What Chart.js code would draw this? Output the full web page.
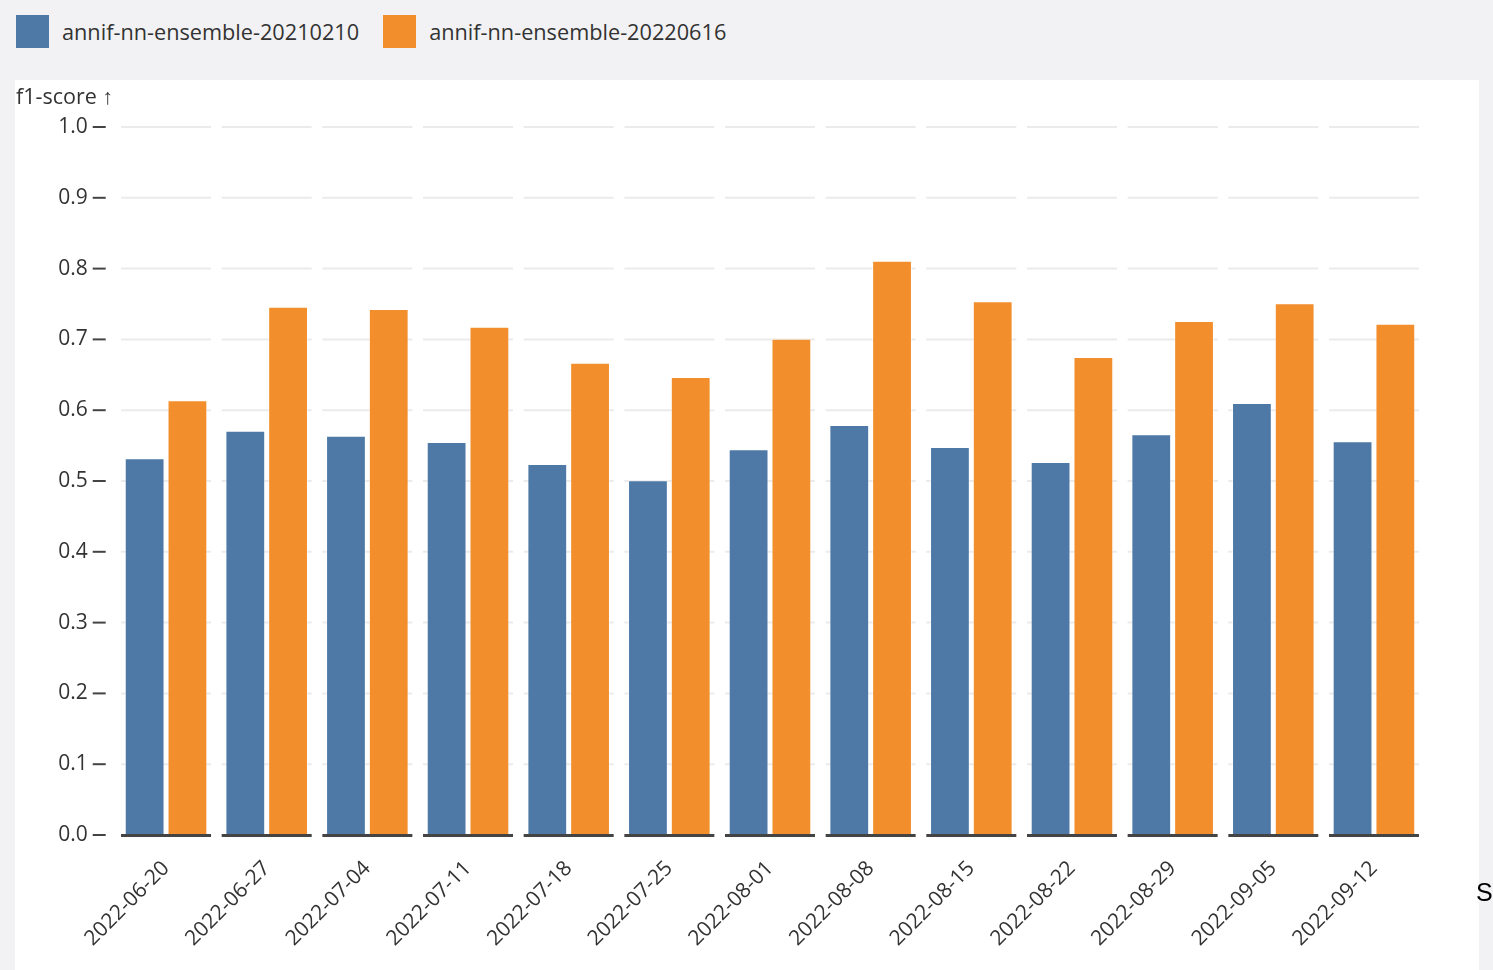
<!DOCTYPE html>
<html>
<head>
<meta charset="utf-8">
<script src="https://cdn.jsdelivr.net/npm/chart.js@4"></script>
<style>
  html, body { margin: 0; padding: 0; }
  body {
    width: 1493px; height: 970px; background: #f2f2f4; position: relative; overflow: hidden;
    font-family: "Open Sans", "Noto Sans", sans-serif; color: #333;
  }
  .legend { position: absolute; top: 15px; left: 16px; display: flex; align-items: center; font-size: 21.7px; }
  .legend .sw { width: 33px; height: 33px; display: inline-block; margin-right: 13px; }
  .legend .item { display: flex; align-items: center; margin-right: 24px; }
  #panel { position: absolute; left: 15px; top: 80px; width: 1464px; height: 890px; background: #fff; }
  #ytitle { position: absolute; left: 1px; top: 1px; font-size: 21.5px; }
  #stray { position: absolute; left: 1476px; top: 878px; font-size: 25px; color: #000; font-family: "Liberation Sans", Arial, sans-serif; }
</style>
</head>
<body>
<div class="legend" id="legend"></div>
<div id="panel">
  <div id="ytitle">f1-score ↑</div>
  <canvas id="chart"></canvas>
</div>
<div id="stray">S</div>
<script>
const categories = ["2022-06-20", "2022-06-27", "2022-07-04", "2022-07-11", "2022-07-18", "2022-07-25",
  "2022-08-01", "2022-08-08", "2022-08-15", "2022-08-22", "2022-08-29", "2022-09-05", "2022-09-12"];
const seriesNames = ["annif-nn-ensemble-20210210", "annif-nn-ensemble-20220616"];
const scores2021 = [0.532, 0.571, 0.564, 0.555, 0.524, 0.501, 0.545, 0.579, 0.548, 0.527, 0.566, 0.610, 0.556];
const scores2022 = [0.614, 0.746, 0.743, 0.718, 0.667, 0.647, 0.701, 0.811, 0.754, 0.675, 0.726, 0.751, 0.722];
const yTicks = [0.0, 0.1, 0.2, 0.3, 0.4, 0.5, 0.6, 0.7, 0.8, 0.9, 1.0];
const colors = ["#4e79a7", "#f28e2b"];

// legend on the grey strip
const legendEl = document.getElementById("legend");
seriesNames.forEach((name, i) => {
  const item = document.createElement("div");
  item.className = "item";
  item.innerHTML = `<span class="sw" style="background:${colors[i]}"></span><span>${name}</span>`;
  legendEl.appendChild(item);
});

// grid lines and the base line are drawn in one piece per category
const segmentPlugin = {
  id: "segments",
  beforeDatasetsDraw(chart) {
    const { ctx, scales: { x, y } } = chart;
    const step = x.getPixelForValue(1) - x.getPixelForValue(0);
    const half = step * 0.447;
    ctx.save();
    ctx.lineWidth = 2;
    ctx.strokeStyle = "#ebebeb";
    yTicks.forEach((t) => {
      if (t === 0) return;
      const py = y.getPixelForValue(t);
      categories.forEach((c, i) => {
        const cx = x.getPixelForValue(i);
        ctx.beginPath();
        ctx.moveTo(cx - half, py);
        ctx.lineTo(cx + half, py);
        ctx.stroke();
      });
    });
    // y tick marks
    ctx.strokeStyle = "#444";
    yTicks.forEach((t) => {
      const py = y.getPixelForValue(t);
      ctx.beginPath();
      ctx.moveTo(chart.chartArea.left - 23, py);
      ctx.lineTo(chart.chartArea.left - 10, py);
      ctx.stroke();
    });
    ctx.restore();
  },
  afterDatasetsDraw(chart) {
    const { ctx, scales: { x, y } } = chart;
    const step = x.getPixelForValue(1) - x.getPixelForValue(0);
    const half = step * 0.447;
    const py = y.getPixelForValue(0);
    ctx.save();
    ctx.lineWidth = 3;
    ctx.strokeStyle = "#444";
    categories.forEach((c, i) => {
      const cx = x.getPixelForValue(i);
      ctx.beginPath();
      ctx.moveTo(cx - half, py + 0.5);
      ctx.lineTo(cx + half, py + 0.5);
      ctx.stroke();
    });
    ctx.restore();
  },
};

const ctx = document.getElementById("chart").getContext("2d");
new Chart(ctx, {
  type: "bar",
  data: {
    labels: categories,
    datasets: [
      { label: seriesNames[0], data: scores2021, backgroundColor: colors[0] },
      { label: seriesNames[1], data: scores2022, backgroundColor: colors[1] },
    ],
  },
  options: {
    responsive: true,
    maintainAspectRatio: false,
    animation: false,
    datasets: {
      bar: {
        categoryPercentage: 0.85,
        barPercentage: 0.93,
        borderWidth: 1,
        borderColor: "rgba(255,255,255,0.45)",
        borderSkipped: false,
      },
    },
    layout: { padding: { left: 0, right: 54.7, top: 47, bottom: 0 } },
    plugins: { legend: { display: false }, tooltip: { enabled: false } },
    scales: {
      x: {
        grid: { display: false },
        border: { display: false },
        ticks: {
          color: "#333",
          font: { family: "'Open Sans', 'Noto Sans', sans-serif", size: 21 },
          minRotation: 45,
          maxRotation: 45,
          padding: 13,
        },
        afterFit(scale) { scale.height = 135; },
      },
      y: {
        min: 0,
        max: 1,
        grid: { display: false, drawTicks: false },
        border: { display: false },
        afterBuildTicks(scale) { scale.ticks = yTicks.map((v) => ({ value: v })); },
        ticks: {
          color: "#333",
          font: { family: "'Open Sans', 'Noto Sans', sans-serif", size: 21 },
          padding: 28,
          callback: (v) => Number(v).toFixed(1),
        },
        afterFit(scale) { scale.width = 100.7; },
      },
    },
  },
  plugins: [segmentPlugin],
});
</script>
</body>
</html>
